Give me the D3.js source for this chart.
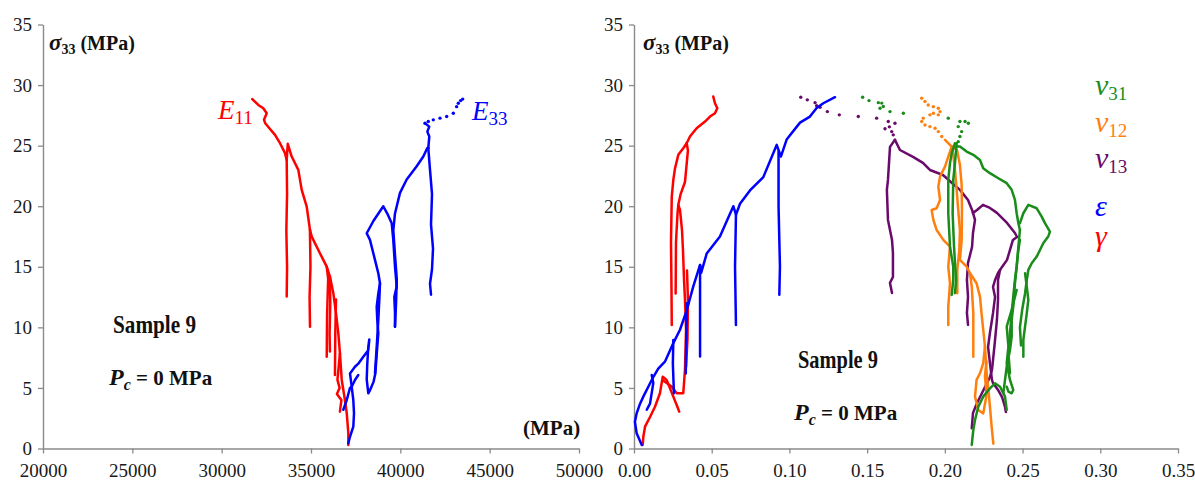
<!DOCTYPE html>
<html><head><meta charset="utf-8">
<script src="https://cdn.jsdelivr.net/npm/d3@7"></script>
<style>body{margin:0;background:#fff}svg{display:block}svg text{font-family:"Liberation Serif","Times New Roman",Times,"DejaVu Serif",serif !important}</style>
</head><body><svg id="c" width="1195" height="486" font-family="Liberation Serif, Times New Roman, serif"></svg>
<script>
// ---------- axis ticks ----------
const yTicks = [0,5,10,15,20,25,30,35];
const xTicksLeft = [20000,25000,30000,35000,40000,45000,50000];
const xTicksRight = [0,0.05,0.10,0.15,0.20,0.25,0.30,0.35];

// ---------- left panel: E11 (MPa, sigma33) ----------
const e11Top = [[31714,28.84],[32050,28.36],[32330,28.09],[32520,27.68],[32370,27.13],[32440,26.85],[32670,26.44],[32985,25.89],[33265,25.2],[33545,24.38],[33640,23.82],[33660,21],[33620,18],[33660,15],[33640,12.54]];
const e11Env = [[33640,23.82],[33700,25.15],[33920,24.1],[34290,23.0],[34480,21.35],[34760,19.97],[34940,18.07],[35040,17.49],[35500,16.12],[35880,15.01],[36060,14.19],[36250,12.82],[36400,11.16],[36530,9.51],[36620,7.86],[36720,5.66],[36900,4.0],[37000,2.91],[37090,1.26],[37090,0.29]];
const e11U1 = [[34940,18.07],[34970,15],[34920,12.5],[34944,10.06]];
const e11U2 = [[35880,15.01],[35960,14.0],[35900,11],[35880,7.58]];
const e11U3 = [[36060,14.19],[36080,12],[36040,9.5],[36060,8.0]];
const e11U4 = [[36400,12.3],[36360,9.5],[36340,6.07]];
const e11U5 = [[36620,7.86],[36480,5.66],[36600,5.0],[36450,4.5],[36700,4.0],[36620,3.04]];

// ---------- left panel: E33 ----------
const e33Dots = [[41381,26.85],[41565,26.99],[41845,27.13],[42220,27.27],[42595,27.4],[42965,27.68],[43150,28.22],[43245,28.5],[43378,28.72],[43490,28.84]];
const e33Wig = [[41381,26.85],[41621,26.57],[41510,26.16],[41621,25.75],[41565,24.79]];
const e33V25 = [[41565,24.79],[41661,23],[41773,21],[41717,18.5],[41829,16.5],[41773,14.8],[41661,13.6],[41717,12.7]];
const e33Env = [[37088,0.43],[37183,0.97],[37368,1.8],[37407,2.9],[37368,4.0],[37278,5.1],[37183,6.2],[37462,6.75],[37647,7.0],[37927,7.58],[38207,8.1],[38263,9.0],[38207,8.4],[38150,7.0],[38118,5.7],[38207,4.56],[38300,4.8],[38500,5.5],[38600,6.2],[38710,8.4],[38767,9.5],[38710,10.6],[38677,11.7],[38767,12.8],[38862,13.64],[38767,14.47],[38581,15.57],[38301,17.22],[38118,17.77],[38500,18.8],[39047,20.0],[39300,19.3],[39517,18.6],[39607,17.2],[39701,15.0],[39797,13.4],[39663,12.5],[39701,11.2],[39701,10.05]];
const e33Up = [[39701,10.05],[39760,12],[39800,14],[39700,16],[39607,18.0],[39701,19.4],[39981,21.1],[40356,22.2],[40916,23.3],[41286,24.1],[41510,24.8],[41565,24.79]];
const e33B1 = [[36808,3.2],[37000,4.0],[37183,5.0],[37278,5.1],[37462,5.66],[37647,6.07]];
const e33B2 = [[38581,6.2],[38677,8.4],[38767,10.6],[38830,12.5],[38862,13.64]];

// ---------- right panel: gamma ----------
const gEnv = [[0.0056,0.29],[0.0060,0.97],[0.0071,1.8],[0.0103,2.6],[0.0135,3.45],[0.0167,4.56],[0.0185,5.93],[0.0210,5.66],[0.0253,4.28],[0.0279,3.45],[0.0291,3.04]];
const gR2 = [[0.0190,5.6],[0.0243,5.1],[0.0275,4.56],[0.0317,4.56],[0.0328,6.5],[0.0335,9.8],[0.0328,12.3],[0.0322,13.9],[0.0315,16.4],[0.0309,18.0],[0.0296,19.7],[0.0285,20.11],[0.0300,21.0],[0.0328,22.0],[0.0347,24.6],[0.0339,25.2]];
const gTop = [[0.0339,25.2],[0.0360,25.75],[0.0403,26.44],[0.0457,26.99],[0.0489,27.4],[0.0521,27.68],[0.0536,28.09],[0.0521,28.5],[0.0510,29.05]];
const gU20 = [[0.0285,20.11],[0.0280,19.4],[0.0270,17],[0.0268,12.8]];
const gU25 = [[0.0339,25.2],[0.0317,24.79],[0.0285,24.24],[0.0264,23.14],[0.0253,22.17],[0.0243,20.79],[0.0238,17],[0.0241,13.5],[0.0243,10.2]];
const gU15 = [[0.0341,14.7],[0.0347,12.3],[0.0344,9.0],[0.0335,6.75]];

// ---------- right panel: epsilon ----------
const epsEnv = [[0.0050,0.29],[0.0017,1.26],[0.0006,2.2],[0.0017,2.9],[0.0039,3.7],[0.0060,4.28],[0.0092,5.1],[0.0124,5.9],[0.0156,6.6],[0.0199,7.17],[0.0253,8.7],[0.0296,9.8],[0.0339,11.4],[0.0382,13.4],[0.0425,15.15],[0.0432,14.5],[0.0468,16.1],[0.0553,17.5],[0.0639,20.0],[0.0656,19.3],[0.0682,20.2],[0.0746,21.3],[0.0832,22.4],[0.0918,25.06],[0.0945,24.1],[0.0982,25.5],[0.1068,26.9],[0.1132,27.4],[0.1175,28.1],[0.1218,28.5],[0.1293,29.0]];
const epsU1 = [[0.0114,6.07],[0.0124,5.4],[0.0103,3.7],[0.0082,3.2]];
const epsU2 = [[0.0253,8.96],[0.0250,7],[0.0257,4.56]];
const epsU3 = [[0.0339,12.0],[0.0336,9],[0.0333,6.2]];
const epsU4 = [[0.0425,15.15],[0.0425,11],[0.0425,7.6]];
const epsU5 = [[0.0656,19.3],[0.0650,15],[0.0656,10.2]];
const epsU6 = [[0.0930,24.5],[0.0930,20],[0.0939,15],[0.0935,12.7]];

// ---------- right panel: nu13 ----------
const n13Dots = [[0.1073,29.0],[0.1115,28.78],[0.1165,28.55],[0.1175,28.3],[0.1197,28.17],[0.1244,27.81],[0.1321,27.54],[0.1443,27.4],[0.1561,27.27],[0.1636,26.99],[0.1679,26.85],[0.1643,26.55],[0.1615,26.4],[0.1658,26.16],[0.1668,25.89]];
const n13Env = [[0.1679,25.48],[0.1711,24.64],[0.1795,24.07],[0.1859,23.58],[0.1904,22.99],[0.1988,22.58],[0.2046,21.92],[0.2097,21.35],[0.2149,20.52],[0.2175,19.69],[0.2194,18.87],[0.2181,17.79],[0.2175,16.64],[0.2149,15.32],[0.2142,13.91],[0.2149,12.51],[0.2142,11.19],[0.2149,10.20]];
const n13V = [[0.1679,25.48],[0.1647,24.90],[0.1634,22.17],[0.1627,21.35],[0.1634,18.87],[0.1660,17.22],[0.1666,16.14],[0.1666,14.16],[0.1647,13.67],[0.1660,12.84]];
const n13P20 = [[0.2181,19.45],[0.2207,19.69],[0.2245,20.11],[0.2290,19.86],[0.2335,19.45],[0.2400,18.62],[0.2451,17.79],[0.2464,17.46],[0.2438,17.22],[0.2419,16.39],[0.2400,15.57],[0.2368,14.99],[0.2342,14.49],[0.2323,13.91],[0.2310,13.34],[0.2323,12.51],[0.2310,11.19],[0.2290,9.54],[0.2278,8.38],[0.2290,7.06],[0.2303,5.66],[0.2310,5.40],[0.2342,4.83],[0.2368,4.25],[0.2387,3.43],[0.2393,3.01]];
const n13Low = [[0.2173,1.67],[0.2181,2.93],[0.2207,3.76],[0.2239,4.58],[0.2271,5.40],[0.2290,5.90],[0.2303,6.48],[0.2310,7.31],[0.2323,8.96],[0.2335,10.61],[0.2342,12.26],[0.2342,13.91],[0.2355,14.74]];

// ---------- right panel: nu12 ----------
const n12Dots = [[0.1851,28.92],[0.1872,28.64],[0.1893,28.36],[0.1926,28.22],[0.1958,28.09],[0.1969,27.81],[0.1958,27.54],[0.1926,27.68],[0.1904,27.54],[0.1861,27.27],[0.1851,26.99],[0.1872,26.71],[0.1904,26.57],[0.1937,26.44],[0.1958,26.16],[0.1980,25.75]];
const n12L = [[0.2001,25.47],[0.2044,24.92],[0.2022,24.10],[0.2001,23.27],[0.1969,22.45],[0.1958,21.62],[0.1969,20.52],[0.1947,19.83],[0.1915,19.69],[0.1926,18.87],[0.1947,18.04],[0.1990,17.22],[0.2033,16.66],[0.2022,15.01],[0.2033,13.64],[0.2022,11.71],[0.2022,10.20]];
const n12V = [[0.2044,24.92],[0.2054,24.24],[0.2065,23.0],[0.2076,21.35],[0.2086,19.69],[0.2097,18.04],[0.2093,16.39],[0.2080,14.74],[0.2080,12.82]];
const n12R = [[0.2044,24.92],[0.2078,24.64],[0.2097,23.4],[0.2108,21.76],[0.2110,19.69],[0.2108,17.22],[0.2097,15.57],[0.2140,15.01],[0.2162,14.47],[0.2173,13.36],[0.2183,11.16],[0.2183,7.58]];
const n12Low = [[0.2162,14.47],[0.2204,13.64],[0.2226,12.54],[0.2236,11.16],[0.2247,9.79],[0.2258,8.41],[0.2247,7.04],[0.2226,6.21],[0.2204,5.66],[0.2194,4.28],[0.2215,3.18],[0.2247,2.9],[0.2268,4.4],[0.2258,6.0],[0.2268,7.2]];
const n12Bot = [[0.2258,8.41],[0.2269,6.21],[0.2280,4.83],[0.2290,3.45],[0.2301,1.8],[0.2312,0.4]];

// ---------- right panel: nu31 ----------
const n31Dots = [[0.1471,29.0],[0.1512,28.72],[0.1572,28.55],[0.1594,28.51],[0.1604,28.23],[0.1583,28.09],[0.1647,27.81],[0.1733,27.68],[0.2022,27.27],[0.2097,26.99],[0.2151,26.85],[0.2130,26.99],[0.2086,26.57],[0.2108,26.16],[0.2097,25.75],[0.2086,25.33]];
const n31Env = [[0.2076,24.92],[0.2097,24.92],[0.2140,24.51],[0.2183,24.24],[0.2226,23.82],[0.2247,23.14],[0.2290,22.73],[0.2344,22.31],[0.2398,21.9],[0.2430,21.35],[0.2451,20.52],[0.2462,19.42],[0.2473,18.6],[0.2483,18.04]];
const n31P20 = [[0.2483,18.6],[0.2505,19.42],[0.2537,20.11],[0.2591,19.83],[0.2623,19.14],[0.2644,18.6],[0.2676,17.9],[0.2665,17.49],[0.2633,16.94],[0.2612,16.39],[0.2591,15.84],[0.2559,15.29],[0.2537,14.74],[0.2527,13.91],[0.2516,12.8],[0.2498,11.5],[0.2483,10],[0.2490,8.5]];
const n31U20 = [[0.2483,18.04],[0.2473,16.66],[0.2462,15.01],[0.2451,13.91],[0.2440,12.54],[0.2430,11.16],[0.2419,9.51],[0.2409,7.86],[0.2419,6.21]];
const n31Loop = [[0.2462,13.09],[0.2430,11.44],[0.2398,10.06],[0.2409,8.41],[0.2398,7.04],[0.2419,5.66],[0.2440,4.83],[0.2430,4.56],[0.2409,4.69],[0.2398,5.1]];
const n31R = [[0.2516,14.47],[0.2527,13.36],[0.2537,12.26],[0.2527,11.16],[0.2516,10.06],[0.2505,8.96],[0.2505,7.58]];
const n31Low = [[0.2173,0.29],[0.2183,1.53],[0.2194,2.35],[0.2215,3.45],[0.2247,4.28],[0.2290,4.97],[0.2323,5.38],[0.2355,5.10],[0.2387,4.28],[0.2398,3.18]];
const n31Up = [[0.2376,4.56],[0.2387,5.66],[0.2398,6.75],[0.2419,8.13],[0.2430,9.23],[0.2430,10.61],[0.2440,11.71],[0.2451,13.64],[0.2462,15.01],[0.2473,16.39],[0.2483,17.22]];
const n31V = [[0.2065,25.2],[0.2044,24.38],[0.2033,23.55],[0.2022,22.17],[0.2022,19.42],[0.2033,16.66],[0.2054,15.01],[0.2054,13.91],[0.2044,12.68]];
const n31V2 = [[0.2076,25.2],[0.2065,23.55],[0.2054,22.17],[0.2050,19.42],[0.2059,16.66],[0.2072,13.91],[0.2065,12.82]];

// ---------- colours ----------
const RED = "#ff0000", BLUE = "#0000ff", PURPLE = "#6a0a6a", ORANGE = "#ff7f0e", GREEN = "#1a8c1a";
const SERIF = '"Liberation Serif","Times New Roman",Times,"DejaVu Serif",serif';

const svg = d3.select("#c");
const y = d3.scaleLinear().domain([0,35]).range([448.5,24.5]);
const xL = d3.scaleLinear().domain([20000,50000]).range([43,579]);
const xR = d3.scaleLinear().domain([0,0.35]).range([634,1178]);

function axes(x, ticks, fmt, x0) {
  const gx = svg.append("g").attr("transform", `translate(0,${y(0)})`)
    .call(d3.axisBottom(x).tickValues(ticks).tickFormat(fmt).tickSize(5).tickPadding(10).tickSizeOuter(0));
  const gy = svg.append("g").attr("transform", `translate(${x0},0)`)
    .call(d3.axisLeft(y).tickValues(yTicks).tickSize(5).tickPadding(6).tickSizeOuter(0));
  [gx, gy].forEach(g => {
    g.attr("font-family", SERIF).attr("font-size", 19);
    g.select(".domain").attr("stroke", "#8a8a8a").attr("stroke-width", 1.4);
    g.selectAll(".tick line").attr("stroke", "#8a8a8a").attr("stroke-width", 1.3);
    g.selectAll(".tick text").attr("fill", "#1a1a1a");
  });
}
axes(xL, xTicksLeft, d3.format("d"), 43);
axes(xR, xTicksRight, d3.format(".2f"), 634);

const line = x => d3.line().x(d => x(d[0])).y(d => y(d[1])).curve(d3.curveLinear);
function draw(x, segs, color, w) {
  segs.forEach(s => svg.append("path").attr("d", line(x)(s)).attr("fill", "none")
    .attr("stroke", color).attr("stroke-width", w || 2.5)
    .attr("stroke-linejoin", "round").attr("stroke-linecap", "round"));
}
function dots(x, pts, color) {
  svg.append("g").selectAll("circle").data(pts).join("circle")
    .attr("cx", d => x(d[0])).attr("cy", d => y(d[1])).attr("r", 1.7).attr("fill", color);
}

// left panel
draw(xL, [e11Top, e11Env, e11U1, e11U2, e11U3, e11U4, e11U5], RED);
draw(xL, [e33Env, e33Up, e33B1, e33B2, e33Wig, e33V25], BLUE);
dots(xL, e33Dots, BLUE);

// right panel
draw(xR, [n13Env, n13V, n13P20, n13Low], PURPLE);
dots(xR, n13Dots, PURPLE);
draw(xR, [n12L, n12V, n12R, n12Low, n12Bot], ORANGE);
dots(xR, n12Dots, ORANGE);
draw(xR, [n31Env, n31P20, n31U20, n31Loop, n31R, n31Low, n31Up, n31V, n31V2], GREEN);
dots(xR, n31Dots, GREEN);
draw(xR, [gEnv, gR2, gTop, gU20, gU25, gU15], RED);
draw(xR, [epsEnv, epsU1, epsU2, epsU3, epsU4, epsU5, epsU6], BLUE);

// ---------- texts ----------
function T(x0, y0) { return svg.append("text").attr("x", x0).attr("y", y0).attr("font-family", SERIF); }
function sigmaLabel(x0, y0) {
  const t = T(x0, y0).attr("font-size", 20).attr("font-weight", "bold").attr("fill", "#111");
  t.append("tspan").attr("font-style", "italic").attr("font-size", 23).text("σ");
  t.append("tspan").attr("font-size", 14).attr("dy", 4).text("33");
  t.append("tspan").attr("dy", -4).text(" (MPa)");
}
sigmaLabel(49, 50);
sigmaLabel(643, 50);

function sample(x0, y0, w) {
  T(x0, y0).attr("font-size", 25).attr("font-weight", "bold")
    .attr("fill", "#111").attr("textLength", w).attr("lengthAdjust", "spacingAndGlyphs").text("Sample 9");
}
function pc(x0, y0) {
  const t = T(x0, y0).attr("font-size", 21).attr("font-weight", "bold").attr("fill", "#111");
  t.append("tspan").attr("font-style", "italic").attr("font-size", 24).text("P");
  t.append("tspan").attr("font-style", "italic").attr("font-size", 16).attr("dy", 5).text("c");
  t.append("tspan").attr("dy", -5).text(" = 0 MPa");
}
sample(113, 333, 83);
pc(109, 385);
sample(798, 368, 80);
pc(794, 420);

T(523, 435).attr("font-size", 21).attr("font-weight", "bold").attr("fill", "#111").text("(MPa)");

function sublabel(x0, y0, main, sub, color, fs, sfs) {
  const t = T(x0, y0).attr("fill", color).attr("font-style", "italic");
  t.append("tspan").attr("font-size", fs).text(main);
  if (sub) t.append("tspan").attr("font-size", sfs).attr("font-style", "normal").attr("dy", 5).text(sub);
}
sublabel(218, 119, "E", "11", RED, 27, 19);
sublabel(472, 120, "E", "33", BLUE, 27, 19);
sublabel(1095, 95, "ν", "31", GREEN, 30, 19);
sublabel(1095, 132, "ν", "12", ORANGE, 30, 19);
sublabel(1095, 168, "ν", "13", PURPLE, 30, 19);
sublabel(1095, 216, "ε", null, BLUE, 30);
sublabel(1095, 246, "γ", null, RED, 30);
</script></body></html>
